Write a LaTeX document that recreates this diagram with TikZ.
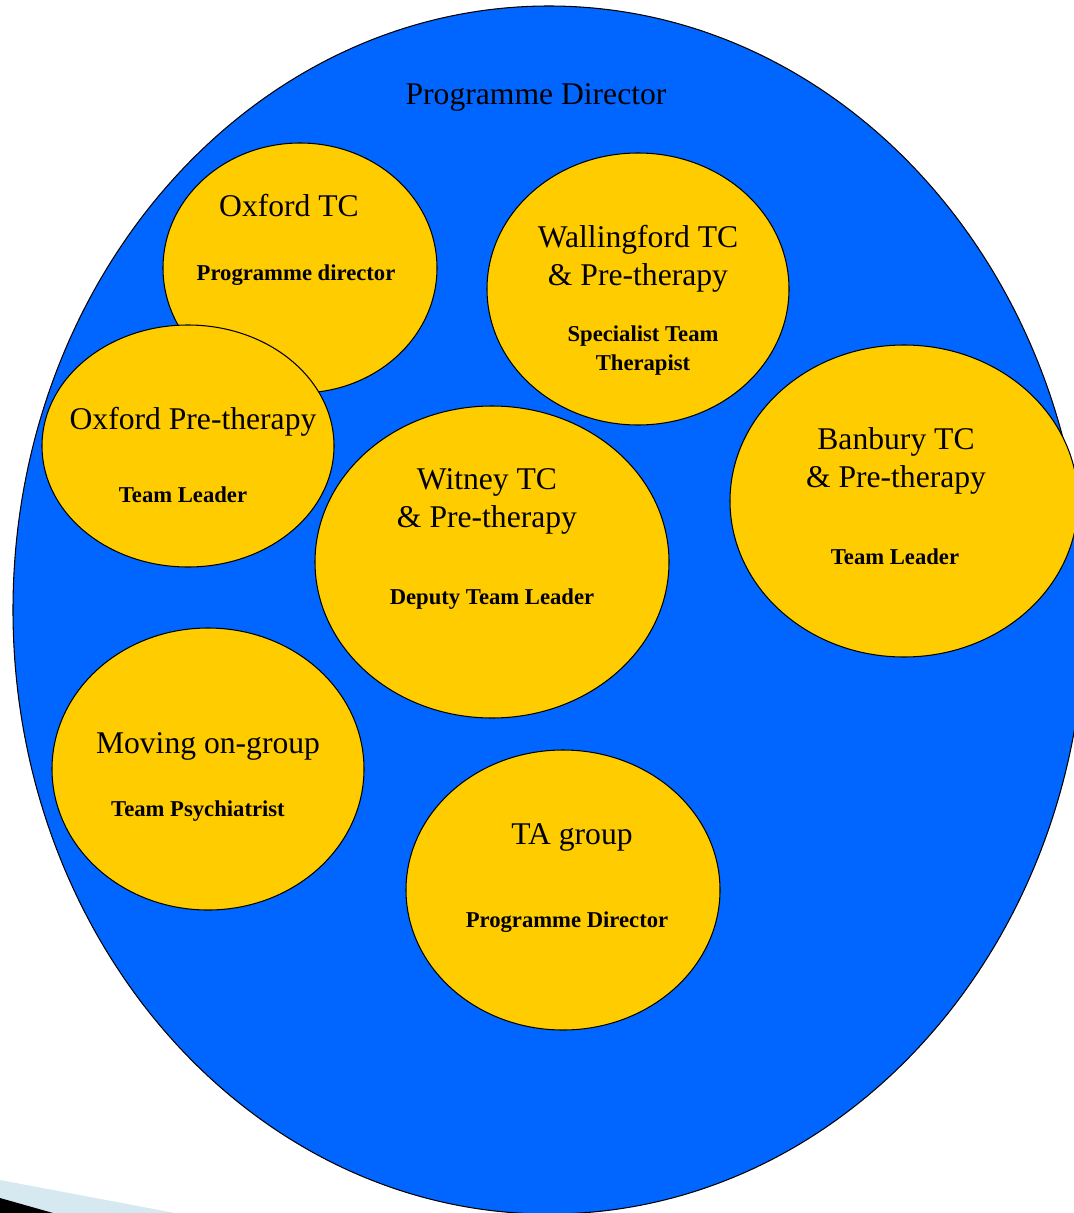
\documentclass[tikz,border=0pt]{standalone}
\usepackage{fontspec}
\setmainfont{Liberation Serif}
\usepackage{tikz}
\usetikzlibrary{shapes}
\usetikzlibrary{positioning}
\usepackage{xcolor}
\definecolor{progblue}{HTML}{0066FF}
\definecolor{sitegold}{HTML}{FFCC00}
\definecolor{paleblue}{HTML}{D6E9F0}

\begin{document}
\begin{tikzpicture}[x=.02cm,y=-.02cm,
  site/.style={draw=black,fill=sitegold,line width=.6pt},
  title/.style={anchor=base,inner sep=0pt,align=center,font=\fontsize{18}{21.5}\selectfont},
  role/.style={anchor=base,inner sep=0pt,align=center,font=\fontsize{12.9}{16.4}\selectfont\bfseries}]
\useasboundingbox (0,0) rectangle (1074,1213);
\clip (0,0) rectangle (1074,1213);
% the whole programme
\draw[fill=progblue,line width=.6pt] (549,610) ellipse [x radius=536, y radius=604];
\node[title] (prog) at (536,105) {Programme Director};
% Oxford
\draw[site] (300,268) ellipse [x radius=137, y radius=125];
\draw[site] (188,446) ellipse [x radius=146, y radius=121];
\node[title] (oxtc) at (289,216) {Oxford TC};
\node[role] (oxtcrole) at (296,280) {Programme director};
\node[title] (oxpre) at (193,429) {Oxford Pre-therapy};
\node[role] (oxprerole) at (183,502) {Team Leader};
% Wallingford (base is the last line)
\draw[site] (638,289) ellipse [x radius=151, y radius=136];
\node[title] (wall) at (638,285) {Wallingford TC\\ \& Pre-therapy};
\node[role] (wallrole) at (643,370) {Specialist Team\\ Therapist};
% Banbury
\draw[site] (904,501) ellipse [x radius=174, y radius=156];
\node[title] (ban) at (896,487) {Banbury TC\\ \& Pre-therapy};
\node[role] (banrole) at (895,564) {Team Leader};
% Witney
\draw[site] (492,562) ellipse [x radius=177, y radius=156];
\node[title] (wit) at (487,527) {Witney TC\\ \& Pre-therapy};
\node[role] (witrole) at (492,604) {Deputy Team Leader};
% groups
\draw[site] (208,769) ellipse [x radius=156, y radius=141];
\node[title] (mov) at (208,753) {Moving on-group};
\node[role] (movrole) at (198,816) {Team Psychiatrist};
\draw[site] (563,890) ellipse [x radius=157, y radius=140];
\node[title] (ta) at (572,844) {TA group};
\node[role] (tarole) at (567,927) {Programme Director};
% corner marker
\fill[paleblue] (0,1180) -- (175,1213) -- (0,1213) -- cycle;
\fill (0,1198) -- (53,1213) -- (0,1213) -- cycle;
\end{tikzpicture}
\end{document}
